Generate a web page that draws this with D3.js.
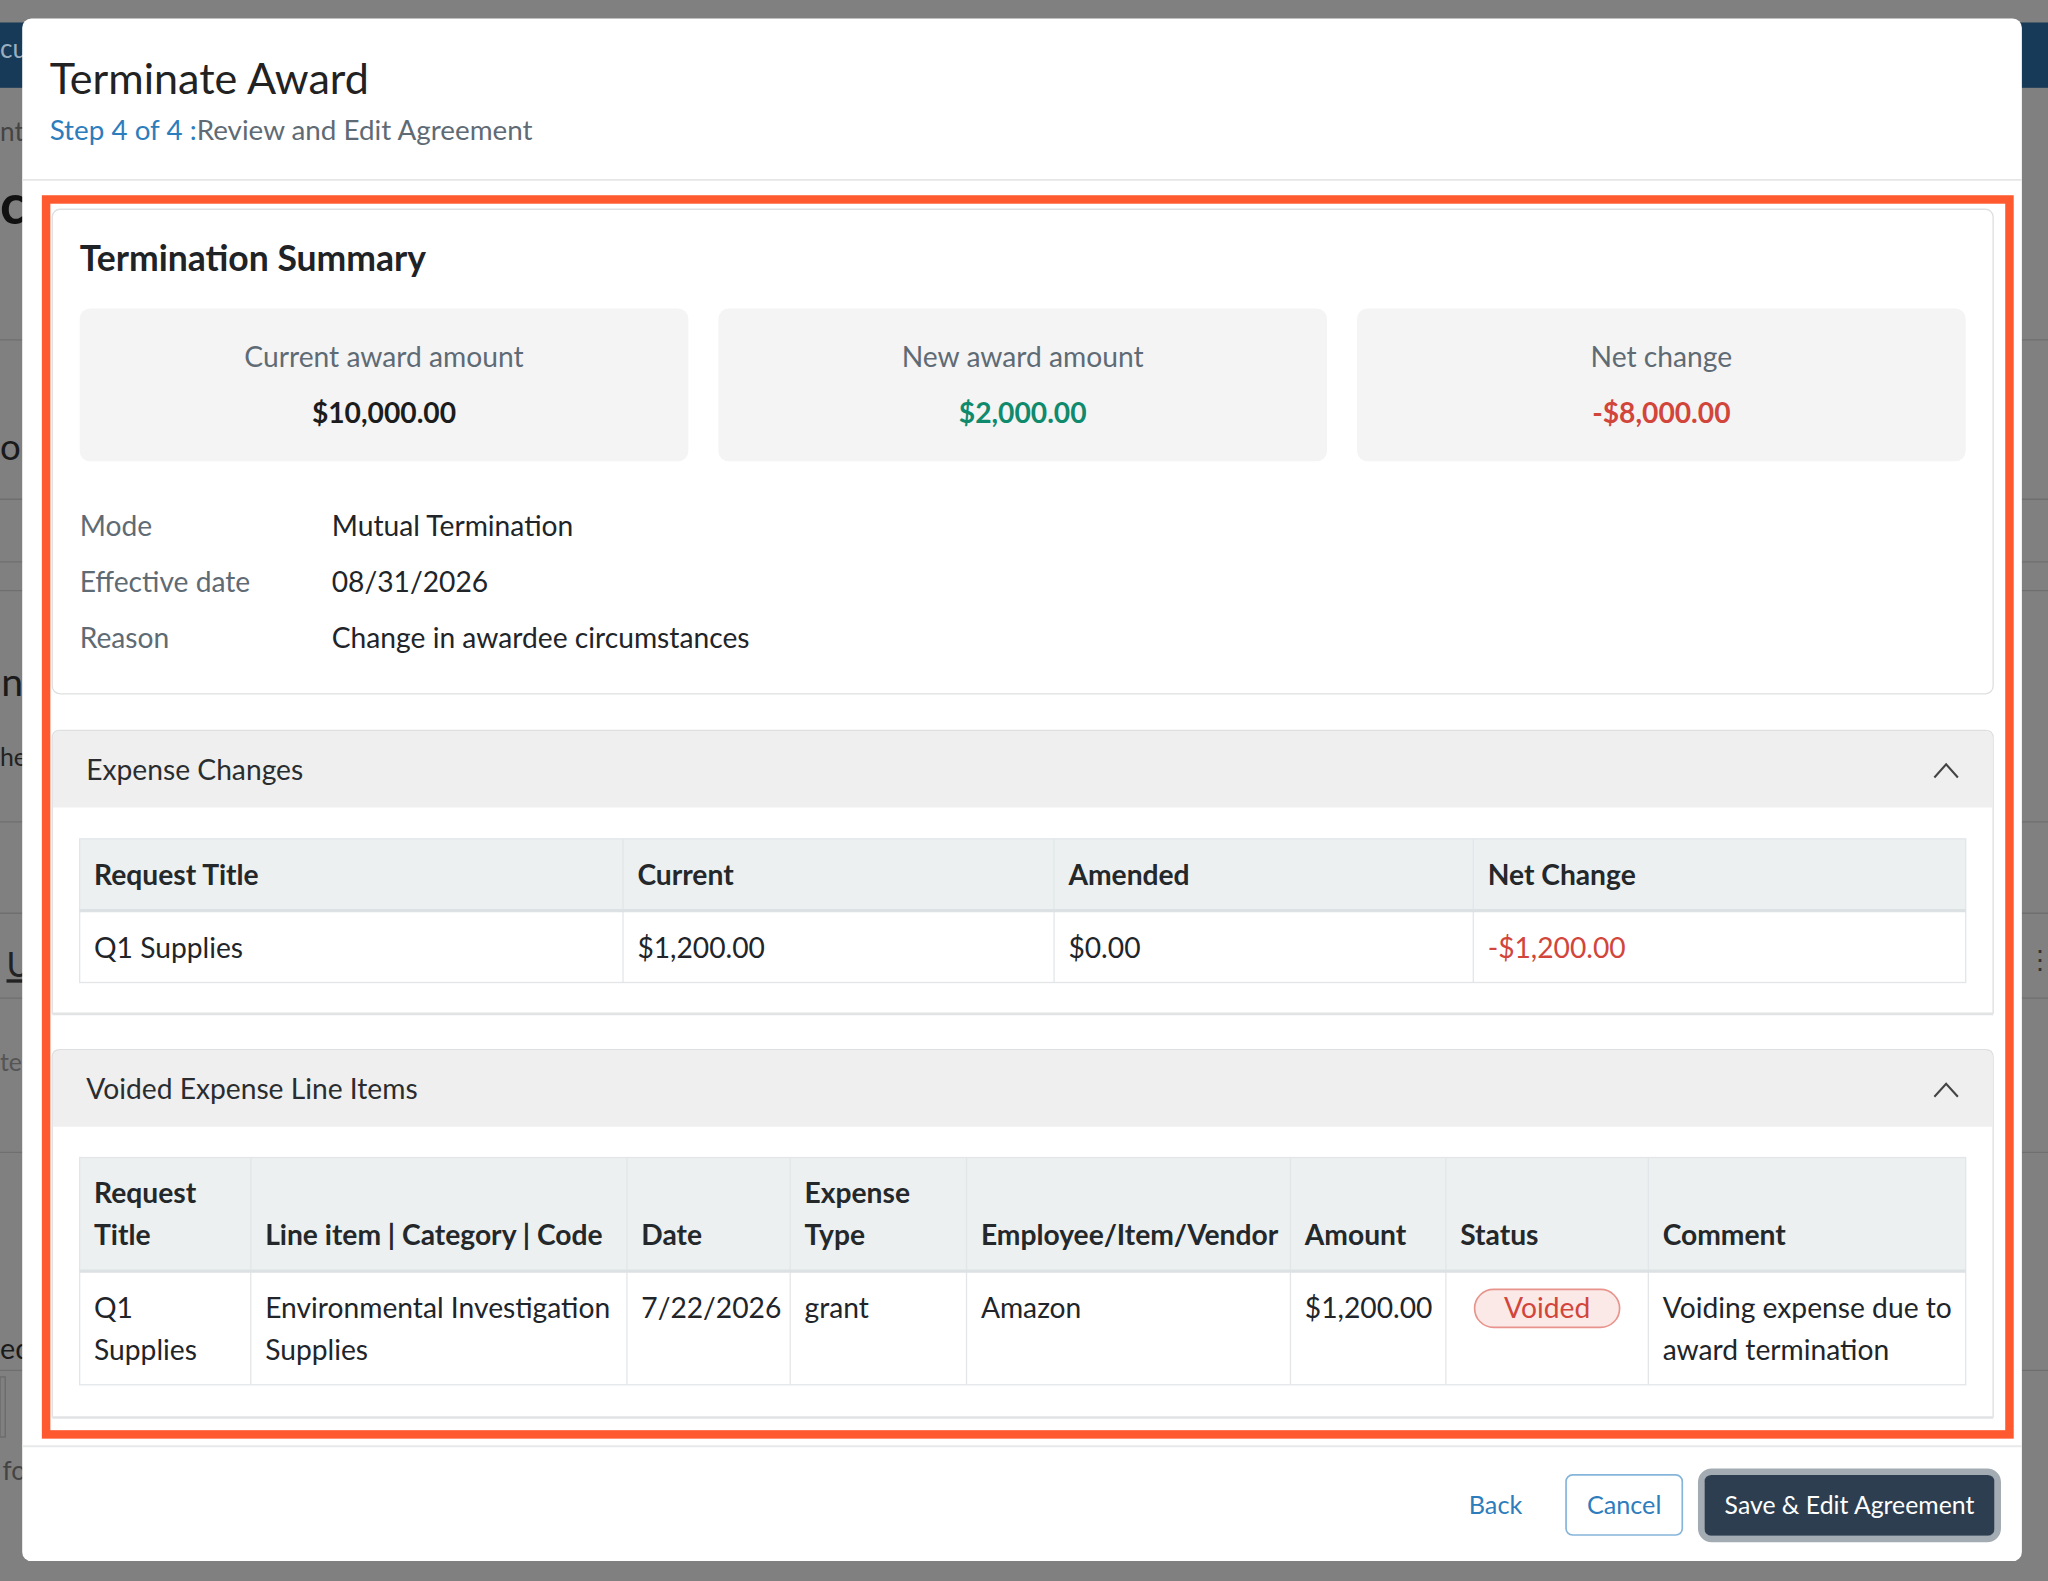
<!DOCTYPE html>
<html><head><meta charset="utf-8">
<script src="https://cdn.jsdelivr.net/npm/d3@7"></script>
<style>
html,body{margin:0;padding:0;background:#808080;overflow:hidden;}
svg{display:block;font-family:Lato,'Noto Sans',sans-serif;}
</style>
</head><body><div id="chart"></div>
<script>
// ---------- DATA ----------
const titleText = "Terminate Award";
const stepLabel = "Step 4 of 4 :";
const stepName = "Review and Edit Agreement";
const summaryTitle = "Termination Summary";
const summaryLabels = ["Current award amount", "New award amount", "Net change"];
const summaryValues = [10000, 2000, -8000];
const detailLabels = ["Mode", "Effective date", "Reason"];
const detailValues = ["Mutual Termination", "08/31/2026", "Change in awardee circumstances"];
const sectionTitles = ["Expense Changes", "Voided Expense Line Items"];
const expenseColumns = ["Request Title", "Current", "Amended", "Net Change"];
const expenseRow = ["Q1 Supplies", 1200, 0, -1200];
const voidedColumns = [["Request", "Title"], ["Line item | Category | Code"], ["Date"], ["Expense", "Type"], ["Employee/Item/Vendor"], ["Amount"], ["Status"], ["Comment"]];
const voidedRow = [["Q1", "Supplies"], ["Environmental Investigation", "Supplies"], ["7/22/2026"], ["grant"], ["Amazon"], [1200], ["Voided"], ["Voiding expense due to", "award termination"]];
const footerButtons = ["Back", "Cancel", "Save & Edit Agreement"];
const bgFragments = ["cu", "nt", "ck", "on", "n", "he", "U", "te", "ed", "fo"];

// ---------- LAYOUT ----------
const W = 1568, H = 1210;
const FS = 21.6;
const C = {
  text: "#212529", label: "#5f6b74", blue: "#2d7dbd", green: "#108a6c", red: "#d2453b",
  border: "#dedfe0", cardFill: "#f4f4f4", secFill: "#efefef", thFill: "#ecf0f1", orange: "#ff5a2f"
};
const fmt = d3.formatLocale({decimal: ".", thousands: ",", grouping: [3], currency: ["$", ""], minus: "-"}).format("$,.2f");
const money = v => typeof v === "number" ? fmt(v) : v;
const colorOf = v => typeof v === "number" && v < 0 ? C.red : null;

const svg = d3.select("#chart").append("svg")
  .attr("width", 2048).attr("height", 1581)
  .attr("viewBox", `0 0 ${W} ${H}`);

function rect(g, x, y, w, h, o = {}) {
  return g.append("rect").attr("x", x).attr("y", y).attr("width", w).attr("height", h)
    .attr("rx", o.rx || 0).attr("fill", o.fill || "none")
    .attr("stroke", o.stroke || "none").attr("stroke-width", o.sw || 1);
}
function line(g, x1, y1, x2, y2, stroke, sw = 1) {
  return g.append("line").attr("x1", x1).attr("y1", y1).attr("x2", x2).attr("y2", y2)
    .attr("stroke", stroke).attr("stroke-width", sw);
}
function text(g, x, y, s, o = {}) {
  return g.append("text").attr("x", x).attr("y", y).text(s)
    .attr("font-size", o.size || FS).attr("font-weight", o.weight || 400)
    .attr("fill", o.fill || C.text).attr("text-anchor", o.anchor || "start");
}

// ---------- BACKGROUND (page behind overlay) ----------
const bg = svg.append("g");
rect(bg, 0, 0, W, H, {fill: "#808080"});
rect(bg, 0, 17, W, 50, {fill: "#163a57"});
[260, 382, 430, 452, 629, 699, 764, 882, 1049].forEach(y => line(bg, 0, y, W, y, "#6f6f6f", 1));
const fragY = [44, 108, 171, 352, 533, 586, 748, 820, 1040, 1133];
const fragX = [0, 0, 0, 0, 1, 0, 5, 0, 0, 2];
const fragSize = [20, 20, 42, 28, 30, 19, 26, 19, 22, 20];
const fragFill = ["#9aaebf", "#444", "#111", "#1a1a1a", "#1a1a1a", "#222", "#222", "#555", "#1a1a1a", "#444"];
bgFragments.forEach((s, i) => {
  const t = text(bg, fragX[i], fragY[i], s, {size: fragSize[i], fill: fragFill[i], weight: i === 2 ? 700 : 400});
  if (s === "U") t.attr("text-decoration", "underline");
});
text(bg, 1552, 742, "⋮", {size: 20, fill: "#333"});
rect(bg, 0, 1054, 4, 46, {stroke: "#6a6a6a"});

// ---------- MODAL ----------
const m = svg.append("g");
rect(m, 17, 14, 1531, 1181, {fill: "#ffffff", rx: 7});
text(m, 38, 72, titleText, {size: 33, fill: "#222"});
const sub = text(m, 38, 107, "", {size: 21.3});
sub.append("tspan").attr("fill", C.blue).text(stepLabel);
sub.append("tspan").attr("fill", C.label).text(stepName);
line(m, 17, 137.5, 1548, 137.5, "#e6e6e6", 1.2);

// Summary card
rect(m, 40, 160, 1486, 371, {fill: "#fff", stroke: C.border, rx: 6});
text(m, 61, 207, summaryTitle, {size: 27.2, weight: 700, fill: "#1f2326"});
const xCard = d3.scaleBand().domain(summaryLabels).range([61, 1505]).paddingInner(0.047);
summaryLabels.forEach((lab, i) => {
  const x = xCard(lab), bw = xCard.bandwidth();
  rect(m, x, 236, bw, 117, {fill: C.cardFill, rx: 8});
  text(m, x + bw / 2, 281, lab, {fill: C.label, anchor: "middle"});
  const v = summaryValues[i];
  text(m, x + bw / 2, 324, money(v), {weight: 700, anchor: "middle",
    fill: i === 0 ? "#1c1c1c" : (v < 0 ? C.red : C.green)});
});
const yDetail = d3.scalePoint().domain(detailLabels).range([410, 496]);
detailLabels.forEach((lab, i) => {
  text(m, 61, yDetail(lab), lab, {fill: C.label});
  text(m, 254, yDetail(lab), detailValues[i], {fill: C.text});
});

// Sections
function section(y0, y1, title) {
  const g = m.append("g");
  g.append("path").attr("d", `M40,${y1} L40,${y0 + 6} Q40,${y0} 46,${y0} L1520,${y0} Q1526,${y0} 1526,${y0 + 6} L1526,${y1}`)
    .attr("fill", "none").attr("stroke", C.border);
  g.append("path").attr("d", `M40.5,${y0 + 59} L40.5,${y0 + 6} Q40.5,${y0 + 0.5} 46,${y0 + 0.5} L1520,${y0 + 0.5} Q1525.5,${y0 + 0.5} 1525.5,${y0 + 6} L1525.5,${y0 + 59} Z`)
    .attr("fill", C.secFill);
  line(g, 40, y1, 1526, y1, "#e2e3e4", 2);
  text(g, 66, y0 + 38, title, {fill: "#2a2d30"});
  g.append("path").attr("d", `M1481,${y0 + 36} L1490,${y0 + 26} L1499,${y0 + 36}`)
    .attr("fill", "none").attr("stroke", "#444").attr("stroke-width", 1.6);
  return g;
}
section(559, 776, sectionTitles[0]);
section(803.5, 1085, sectionTitles[1]);

function table(g, x0, widths, yTop, yMid, yBot, headers, row, headBase, rowBase) {
  const edges = [x0].concat(Array.from(d3.cumsum(widths), w => x0 + w));
  const x1 = edges[edges.length - 1];
  rect(g, x0, yTop, x1 - x0, yMid - yTop, {fill: C.thFill});
  rect(g, x0, yTop, x1 - x0, yBot - yTop, {stroke: "#e3e6e8"});
  edges.slice(1, -1).forEach(x => line(g, x, yTop, x, yBot, "#e3e6e8", 1));
  line(g, x0, yMid, x1, yMid, "#dce1e4", 2.5);
  headers.forEach((h, i) => {
    const lines = Array.isArray(h) ? h : [h];
    lines.forEach((s, k) => text(g, edges[i] + 11, headBase - (lines.length - 1 - k) * 32, s, {weight: 700, fill: "#24282b"}));
  });
  row.forEach((c, i) => {
    const lines = Array.isArray(c) ? c : [c];
    lines.forEach((s, k) => {
      if (s === "Voided") {
        const cx = edges[i] + 22 + 55.5;
        rect(g, edges[i] + 22, rowBase - 22, 111, 29, {fill: "#fbe9e8", stroke: "#e8948d", rx: 14.5, sw: 1.3});
        text(g, cx, rowBase, s, {fill: C.red, anchor: "middle"});
      } else {
        text(g, edges[i] + 11, rowBase + k * 32, money(s), {fill: colorOf(s) || C.text});
      }
    });
  });
}
table(m, 61, [416, 330, 321, 377], 642, 697, 752, expenseColumns, expenseRow, 677, 733);
table(m, 61, [131, 288, 125, 135, 248, 119, 155, 243], 886, 973, 1060, voidedColumns, voidedRow, 953, 1009);

// Orange highlight
rect(m, 35.3, 152.5, 1503.2, 945.5, {stroke: C.orange, sw: 6.5});

// Footer
line(m, 17, 1107, 1548, 1107, "#e8e9ea", 1.5);
text(m, 1145, 1159, footerButtons[0], {size: 19.3, fill: C.blue, anchor: "middle"});
rect(m, 1199, 1129, 89, 46, {fill: "#fff", stroke: "#86b5da", rx: 5, sw: 1.3});
text(m, 1243.5, 1159, footerButtons[1], {size: 19.3, fill: C.blue, anchor: "middle"});
rect(m, 1302.5, 1126.5, 227, 51.5, {fill: "none", stroke: "#a3abb3", rx: 8, sw: 5});
rect(m, 1305, 1129, 222, 46.5, {fill: "#2d3e50", rx: 5});
text(m, 1416, 1159, footerButtons[2], {size: 19, fill: "#ffffff", anchor: "middle"});
</script>
</body></html>
